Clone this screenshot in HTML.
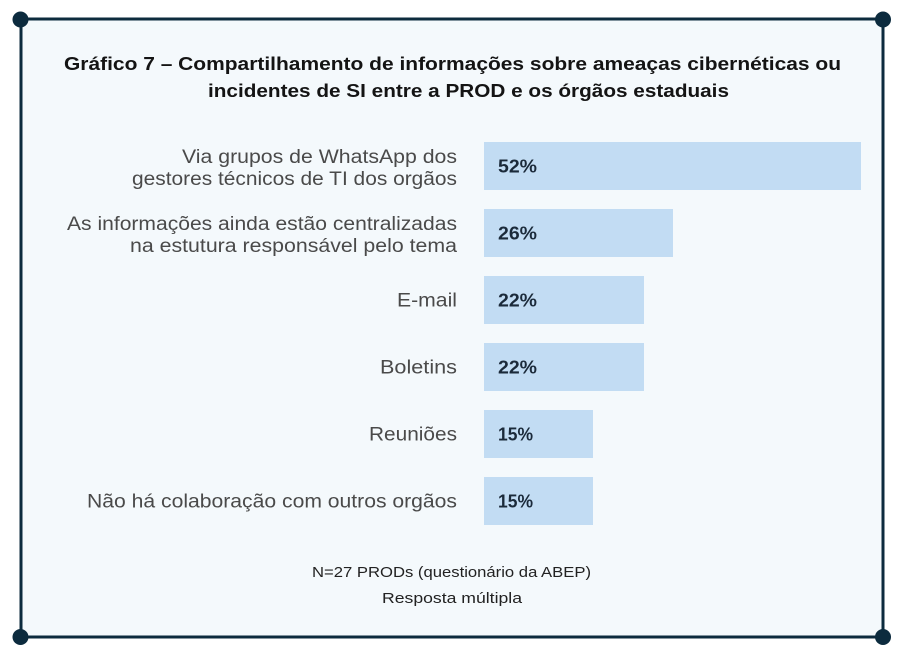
<!DOCTYPE html>
<html>
<head>
<meta charset="utf-8">
<style>
  html,body{margin:0;padding:0;background:#ffffff;}
  svg{display:block;}
  text{font-family:"Liberation Sans",sans-serif;}
</style>
</head>
<body>
<svg width="907" height="658" viewBox="0 0 907 658" xmlns="http://www.w3.org/2000/svg">
  <rect x="0" y="0" width="907" height="658" fill="#ffffff"/>
  <rect x="21" y="19" width="862" height="618" fill="#f4f9fc" stroke="#0c2b3e" stroke-width="3"/>
  <circle cx="20.5" cy="19.5" r="8" fill="#0c2b3e"/>
  <circle cx="883" cy="19.5" r="8" fill="#0c2b3e"/>
  <circle cx="20.5" cy="637" r="8" fill="#0c2b3e"/>
  <circle cx="883" cy="637" r="8" fill="#0c2b3e"/>

  <!-- Title -->
  <text x="64" y="70" font-size="18.5" font-weight="bold" fill="#141414" textLength="777" lengthAdjust="spacingAndGlyphs">Gráfico 7 – Compartilhamento de informações sobre ameaças cibernéticas ou</text>
  <text x="208" y="97" font-size="18.5" font-weight="bold" fill="#141414" textLength="521" lengthAdjust="spacingAndGlyphs">incidentes de SI entre a PROD e os órgãos estaduais</text>

  <!-- Bars -->
  <g fill="#c2dcf3">
    <rect x="484" y="142" width="377" height="48"/>
    <rect x="484" y="209" width="189" height="48"/>
    <rect x="484" y="276" width="160" height="48"/>
    <rect x="484" y="343" width="160" height="48"/>
    <rect x="484" y="410" width="109" height="48"/>
    <rect x="484" y="477" width="109" height="48"/>
  </g>

  <!-- Values -->
  <g font-size="18.5" font-weight="bold" fill="#1b2a3a">
    <text x="498" y="172.5" textLength="39" lengthAdjust="spacingAndGlyphs">52%</text>
    <text x="498" y="239.5" textLength="39" lengthAdjust="spacingAndGlyphs">26%</text>
    <text x="498" y="306.5" textLength="39" lengthAdjust="spacingAndGlyphs">22%</text>
    <text x="498" y="373.5" textLength="39" lengthAdjust="spacingAndGlyphs">22%</text>
    <text x="498" y="440.5" textLength="35" lengthAdjust="spacingAndGlyphs">15%</text>
    <text x="498" y="507.5" textLength="35" lengthAdjust="spacingAndGlyphs">15%</text>
  </g>

  <!-- Category labels -->
  <g font-size="19" fill="#4a4a4a">
    <text x="182" y="163" textLength="275" lengthAdjust="spacingAndGlyphs">Via grupos de WhatsApp dos</text>
    <text x="132" y="185" textLength="325" lengthAdjust="spacingAndGlyphs">gestores técnicos de TI dos orgãos</text>
    <text x="67" y="230" textLength="390" lengthAdjust="spacingAndGlyphs">As informações ainda estão centralizadas</text>
    <text x="130" y="252" textLength="327" lengthAdjust="spacingAndGlyphs">na estutura responsável pelo tema</text>
    <text x="397" y="306.5" textLength="60" lengthAdjust="spacingAndGlyphs">E-mail</text>
    <text x="380" y="373.5" textLength="77" lengthAdjust="spacingAndGlyphs">Boletins</text>
    <text x="369" y="440.5" textLength="88" lengthAdjust="spacingAndGlyphs">Reuniões</text>
    <text x="87" y="507.5" textLength="370" lengthAdjust="spacingAndGlyphs">Não há colaboração com outros orgãos</text>
  </g>

  <!-- Footer -->
  <g font-size="14.5" fill="#222222">
    <text x="312" y="577" textLength="279" lengthAdjust="spacingAndGlyphs">N=27 PRODs (questionário da ABEP)</text>
    <text x="382" y="603" textLength="140" lengthAdjust="spacingAndGlyphs">Resposta múltipla</text>
  </g>
</svg>
</body>
</html>
